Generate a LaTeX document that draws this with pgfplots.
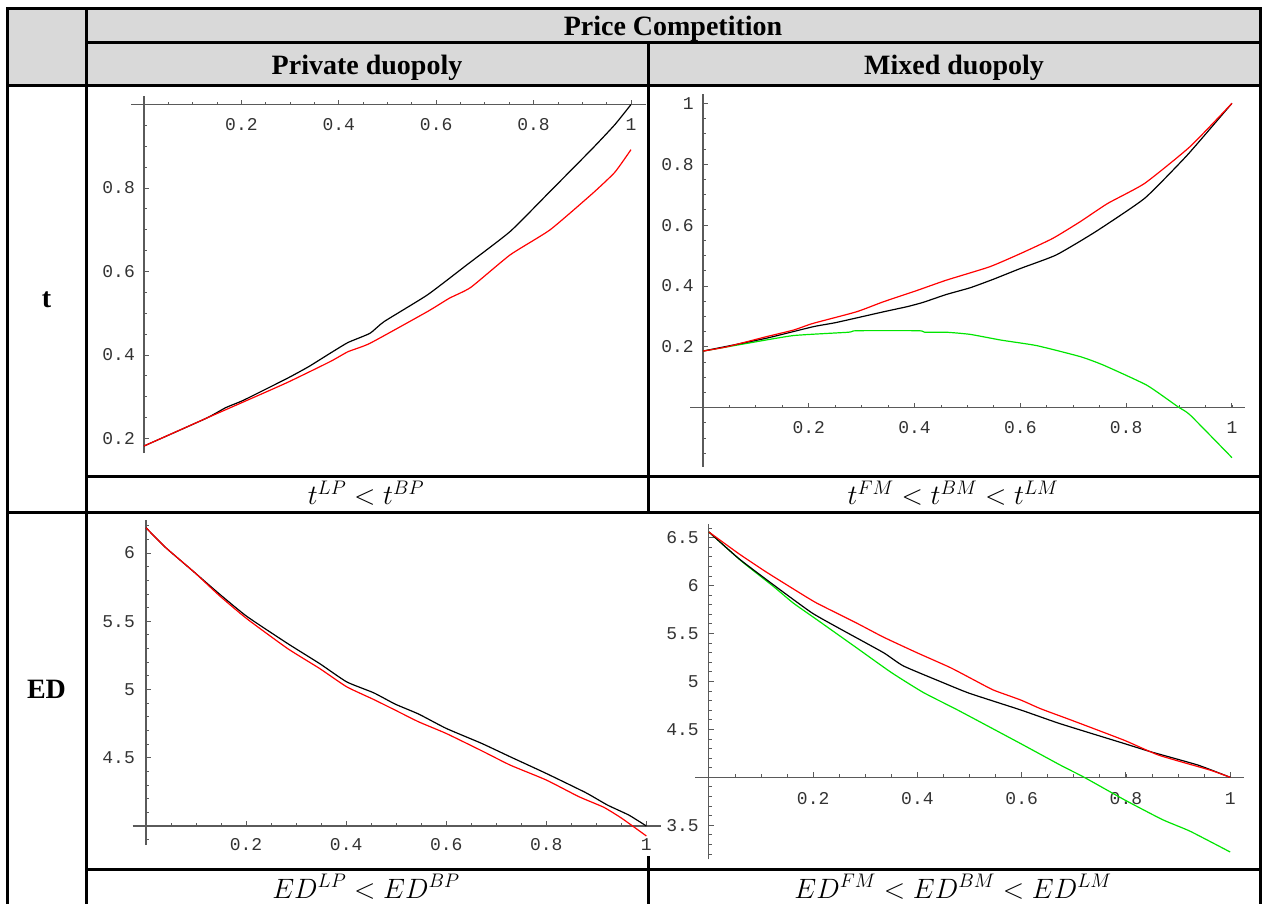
\RequirePackage{fix-cm}
\documentclass[border=0pt]{standalone}
\usepackage{fontspec}
\setmainfont{Liberation Serif}
\newfontfamily\tickfont{Liberation Mono}
\usepackage{pgfplots}
\pgfplotsset{compat=1.18}
\definecolor{hdr}{HTML}{D9D9D9}
\definecolor{axgray}{HTML}{5A5A5A}
\definecolor{mred}{rgb}{1,0,0}
\definecolor{mgreen}{rgb}{0,0.9,0}
\tikzset{
  ax/.style={draw=axgray,line width=1.1pt},
  tk/.style={draw=axgray,line width=0.9pt},
  tl/.style={font=\tickfont\fontsize{18}{20}\selectfont, text=black!80, inner sep=0pt},
  grid/.style={line width=3pt, line cap=rect},
  hd/.style={font=\bfseries\fontsize{28}{32}\selectfont, anchor=base, inner sep=0pt},
  captxt/.style={font=\fontsize{28}{32}\selectfont, anchor=base, inner sep=0pt},
  cv/.style={line width=1.2pt, mark=none, smooth, tension=0.3}}
\pgfplotsset{myax/.style={anchor=south west, scale only axis, hide axis, clip=false,
  xmin=-0.03, xmax=1.03}}
\begin{document}
\begin{tikzpicture}
\begin{scope}[x=1pt,y=1pt]
\fill[hdr] (7.7,894) rectangle (1260.5,817);
\end{scope}

% ---------- Plot 1: private duopoly, t ----------
\begin{axis}[myax, at={(129.4pt,447.8pt)},
  width=516.2pt, height=363.2pt, ymin=0.16, ymax=1.03]
\draw[ax] (axis cs:-0.026,1) -- (axis cs:1.03,1);
\draw[ax] (axis cs:0,0.165) -- (axis cs:0,1.02);
\pgfplotsinvokeforeach{0.05,0.1,...,1.01}{\draw[tk] (axis cs:#1,1) -- ++(0pt,3pt);}
\pgfplotsinvokeforeach{0.2,0.4,0.6,0.8,1}{\draw[tk] (axis cs:#1,1) -- ++(0pt,5pt);
  \node[tl, yshift=-20pt] at (axis cs:#1,1) {#1};}
\pgfplotsinvokeforeach{0.2,0.25,...,1.01}{\draw[tk] (axis cs:0,#1) -- ++(3pt,0pt);}
\pgfplotsinvokeforeach{0.2,0.4,0.6,0.8}{\draw[tk] (axis cs:0,#1) -- ++(5pt,0pt);
  \node[tl, anchor=east, xshift=-9pt] at (axis cs:0,#1) {#1};}
\addplot[cv, black] coordinates {(0,0.182)(0.127,0.248)(0.168,0.274)(0.205,0.292)(0.294,0.344)(0.338,0.372)(0.382,0.404)(0.419,0.430)(0.464,0.452)(0.493,0.480)(0.582,0.544)(0.663,0.616)(0.752,0.696)(0.834,0.792)(0.922,0.896)(0.967,0.952)(1,1.0)};
\addplot[cv, mred] coordinates {(0,0.182)(0.127,0.248)(0.205,0.288)(0.294,0.334)(0.382,0.384)(0.419,0.408)(0.464,0.428)(0.582,0.504)(0.627,0.536)(0.671,0.562)(0.752,0.640)(0.834,0.700)(0.922,0.788)(0.967,0.838)(1,0.892)};
\end{axis}

% ---------- Plot 2: mixed duopoly, t ----------
\begin{axis}[myax, at={(687.1pt,434.4pt)},
  width=560.7pt, height=374.4pt, ymin=-0.2, ymax=1.03]
\draw[ax] (axis cs:-0.024,0) -- (axis cs:1.025,0);
\draw[ax] (axis cs:0,-0.194) -- (axis cs:0,1.03);
\pgfplotsinvokeforeach{0.05,0.1,...,1.01}{\draw[tk] (axis cs:#1,0) -- ++(0pt,3pt);}
\pgfplotsinvokeforeach{0.2,0.4,0.6,0.8,1}{\draw[tk] (axis cs:#1,0) -- ++(0pt,5pt);
  \node[tl, yshift=-20pt] at (axis cs:#1,0) {#1};}
\pgfplotsinvokeforeach{-0.15,-0.1,...,1.01}{\draw[tk] (axis cs:0,#1) -- ++(3pt,0pt);}
\pgfplotsinvokeforeach{0.2,0.4,0.6,0.8,1}{\draw[tk] (axis cs:0,#1) -- ++(5pt,0pt);
  \node[tl, anchor=east, xshift=-9pt] at (axis cs:0,#1) {#1};}
\addplot[cv, mgreen] coordinates {(0,0.186)(0.082,0.211)(0.171,0.237)(0.275,0.248)(0.290,0.253)(0.408,0.253)(0.419,0.248)(0.460,0.248)(0.505,0.241)(0.564,0.222)(0.631,0.204)(0.713,0.168)(0.757,0.140)(0.839,0.074)(0.898,0.003)(0.921,-0.024)(1,-0.164)};
\addplot[cv, black] coordinates {(0,0.186)(0.119,0.228)(0.208,0.266)(0.252,0.280)(0.341,0.315)(0.386,0.332)(0.416,0.346)(0.460,0.372)(0.505,0.394)(0.549,0.422)(0.601,0.458)(0.668,0.502)(0.742,0.578)(0.835,0.688)(0.913,0.825)(0.965,0.929)(1,1.0)};
\addplot[cv, mred] coordinates {(0,0.186)(0.045,0.200)(0.119,0.233)(0.171,0.255)(0.208,0.277)(0.290,0.315)(0.341,0.348)(0.401,0.383)(0.460,0.419)(0.542,0.463)(0.601,0.507)(0.661,0.556)(0.713,0.611)(0.765,0.671)(0.835,0.737)(0.921,0.858)(1,1.0)};
\end{axis}

% ---------- Plot 3: private duopoly, ED ----------
\begin{axis}[myax, at={(131pt,56.5pt)},
  width=530.4pt, height=327.6pt, ymin=3.85, ymax=6.25]
\draw[ax] (axis cs:-0.027,4) -- (axis cs:1.03,4);
\draw[ax] (axis cs:0,3.86) -- (axis cs:0,6.24);
\pgfplotsinvokeforeach{0.05,0.1,...,1.01}{\draw[tk] (axis cs:#1,4) -- ++(0pt,3pt);}
\pgfplotsinvokeforeach{0.2,0.4,0.6,0.8,1}{\draw[tk] (axis cs:#1,4) -- ++(0pt,5pt);
  \node[tl, yshift=-19pt] at (axis cs:#1,4) {#1};}
\pgfplotsinvokeforeach{3.9,4.0,...,6.21}{\draw[tk] (axis cs:0,#1) -- ++(3pt,0pt);}
\pgfplotsinvokeforeach{4.5,5,5.5,6}{\draw[tk] (axis cs:0,#1) -- ++(5pt,0pt);
  \node[tl, anchor=east, xshift=-11pt] at (axis cs:0,#1) {#1};}
\addplot[cv, black] coordinates {(0,6.185)(0.038,6.044)(0.096,5.861)(0.146,5.702)(0.201,5.537)(0.283,5.337)(0.347,5.190)(0.401,5.056)(0.455,4.976)(0.498,4.893)(0.545,4.820)(0.600,4.715)(0.671,4.605)(0.728,4.507)(0.800,4.385)(0.879,4.244)(0.922,4.154)(0.965,4.080)(1,4.0)};
\addplot[cv, mred] coordinates {(0,6.185)(0.038,6.044)(0.096,5.861)(0.146,5.690)(0.201,5.520)(0.283,5.300)(0.347,5.154)(0.401,5.020)(0.455,4.927)(0.498,4.849)(0.545,4.763)(0.600,4.678)(0.671,4.551)(0.728,4.446)(0.800,4.337)(0.865,4.215)(0.915,4.137)(0.951,4.056)(1,3.927)};
\end{axis}

% ---------- Plot 4: mixed duopoly, ED ----------
\begin{axis}[myax, at={(693.3pt,39.4pt)},
  width=552.5pt, height=345.1pt, ymin=3.1, ymax=6.7]
\draw[ax] (axis cs:-0.026,4) -- (axis cs:1.027,4);
\draw[ax] (axis cs:0,3.145) -- (axis cs:0,6.645);
\pgfplotsinvokeforeach{0.05,0.1,...,1.01}{\draw[tk] (axis cs:#1,4) -- ++(0pt,3pt);}
\pgfplotsinvokeforeach{0.2,0.4,0.6,0.8,1}{\draw[tk] (axis cs:#1,4) -- ++(0pt,5pt);
  \node[tl, yshift=-21pt] at (axis cs:#1,4) {#1};}
\pgfplotsinvokeforeach{3.2,3.3,...,6.61}{\draw[tk] (axis cs:0,#1) -- ++(3pt,0pt);}
\pgfplotsinvokeforeach{3.5,4.5,5,5.5,6,6.5}{\draw[tk] (axis cs:0,#1) -- ++(5pt,0pt);
  \node[tl, anchor=east, xshift=-10pt] at (axis cs:0,#1) {#1};}
\addplot[cv, mgreen] coordinates {(0,6.559)(0.064,6.248)(0.124,5.990)(0.162,5.817)(0.207,5.645)(0.283,5.352)(0.350,5.093)(0.411,4.886)(0.479,4.697)(0.598,4.352)(0.674,4.128)(0.720,4.0)(0.797,3.766)(0.870,3.559)(0.923,3.438)(1,3.221)};
\addplot[cv, black] coordinates {(0,6.559)(0.057,6.283)(0.124,6.007)(0.198,5.714)(0.260,5.524)(0.335,5.300)(0.373,5.162)(0.448,4.990)(0.500,4.876)(0.598,4.703)(0.674,4.559)(0.797,4.352)(0.848,4.266)(0.938,4.128)(1,4.0)};
\addplot[cv, mred] coordinates {(0,6.559)(0.057,6.334)(0.109,6.145)(0.170,5.938)(0.207,5.817)(0.283,5.610)(0.335,5.462)(0.399,5.300)(0.463,5.145)(0.509,5.014)(0.546,4.910)(0.598,4.807)(0.637,4.714)(0.697,4.593)(0.797,4.386)(0.863,4.231)(0.961,4.076)(1,4.0)};
\end{axis}

\begin{scope}[x=1pt,y=1pt]
% ---------- table grid ----------
\draw[grid] (7.7,894) -- (1260.5,894);
\draw[grid] (86,860) -- (1260.5,860);
\draw[grid] (7.7,817) -- (1260.5,817);
\draw[grid] (86,426.3) -- (1260.5,426.3);
\draw[grid] (7.7,390.7) -- (1260.5,390.7);
\draw[grid] (86,33) -- (1260.5,33);
\draw[grid] (7.7,894) -- (7.7,0);
\draw[grid] (86,894) -- (86,0);
\draw[grid] (1260.5,894) -- (1260.5,0);
\draw[grid] (648,860) -- (648,390.7);
\draw[grid] (648,45) -- (648,0);
% ---------- texts ----------
\node[hd] at (673,867.5) {Price Competition};
\node[hd] at (367,828.5) {Private duopoly};
\node[hd] at (954,828.5) {Mixed duopoly};
\node[hd] at (46.5,595) {t};
\node[hd] at (46.5,204) {ED};
\node[captxt] at (366,398) {$t^{LP} < t^{BP}$};
\node[captxt] at (953,398) {$t^{FM} < t^{BM} < t^{LM}$};
\node[captxt] at (366,5) {$ED^{LP} < ED^{BP}$};
\node[captxt] at (953,5) {$ED^{FM} < ED^{BM} < ED^{LM}$};
\pgfresetboundingbox
\path[use as bounding box] (0,0) rectangle (1262,903);
\end{scope}
\end{tikzpicture}
\end{document}
